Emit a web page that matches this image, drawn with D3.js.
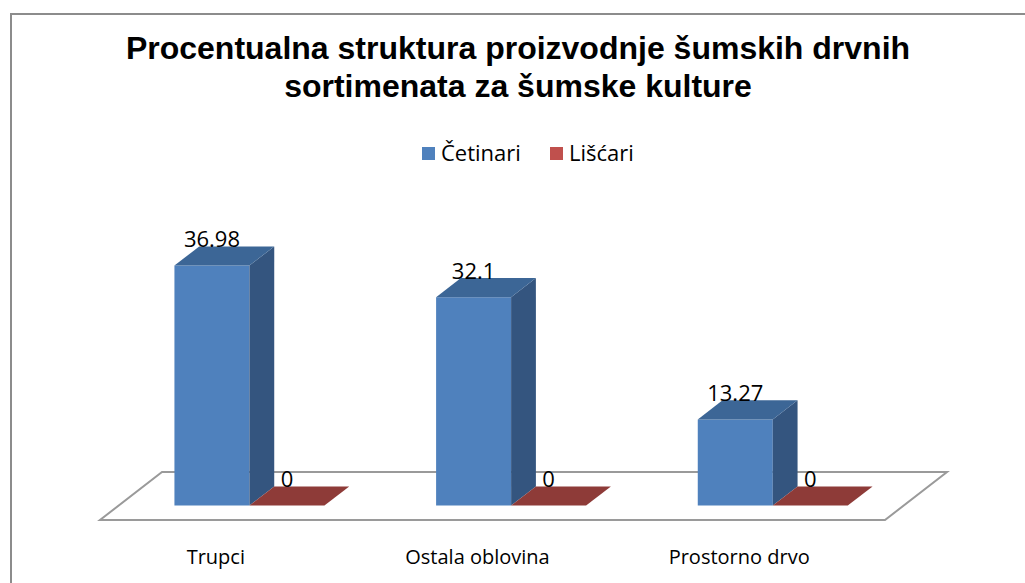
<!DOCTYPE html>
<meta charset="utf-8">
<style>
body { margin: 0; background: #fff; }
.title { font: bold 32px "Liberation Sans", Arial, sans-serif; fill: #000; }
.lbl { font-family: "Open Sans", sans-serif; fill: #000; }
</style>
<svg width="1025" height="583"></svg>
<script src="https://cdn.jsdelivr.net/npm/d3@7/dist/d3.min.js"></script>
<script>

var categories = ["Trupci", "Ostala oblovina", "Prostorno drvo"];
var series = ["Četinari", "Lišćari"];
var cetinari = [36.98, 32.1, 13.27];
var liscari = [0, 0, 0];
var titleLines = ["Procentualna struktura proizvodnje šumskih drvnih", "sortimenata za šumske kulture"];

var svg = d3.select("svg");

var colors = {
  "Četinari": {front: "#4f81bd", side: "#34557f", top: "#3c6696", legend: "#4f81bd"},
  "Lišćari": {front: "#c0504d", side: "#7e3230", top: "#8e3b38", legend: "#c0504d"}
};

// chart border
svg.append("rect")
    .attr("x", 11).attr("y", 14)
    .attr("width", 1040).attr("height", 600)
    .attr("fill", "#fff")
    .attr("stroke", "#8c8c8c")
    .attr("stroke-width", 2);

// title
svg.append("text")
    .attr("class", "title")
    .attr("text-anchor", "middle")
    .selectAll("tspan")
    .data(titleLines)
  .enter().append("tspan")
    .attr("x", 518)
    .attr("y", function(d, i) { return 59 + i * 38; })
    .text(function(d) { return d; });

// legend
var leg = svg.append("g").attr("transform", "translate(422,147)");
var legX = [0, 128];
series.forEach(function(s, i) {
  leg.append("rect")
      .attr("x", legX[i]).attr("y", 0)
      .attr("width", 13).attr("height", 13)
      .attr("fill", colors[s].legend);
  leg.append("text")
      .attr("class", "lbl")
      .style("font-size", "22px")
      .attr("x", legX[i] + 19).attr("y", 14)
      .text(s);
});

// 3D projection settings
var floorY = 520,
    depthX = 62, depthY = -48,   // full floor depth offset
    t0 = 0.3, t1 = 0.7;          // bar depth range

var x0 = d3.scaleBand().domain(categories).range([100, 885]);
var x1 = d3.scaleBand().domain(series).range([-75, 75]);
var h = d3.scaleLinear().domain([0, 40]).range([0, 259.6]);

function pt(x, y, t) { return [x + depthX * t, y + depthY * t]; }
function poly(pts) { return pts.map(function(p) { return p.join(","); }).join(" "); }

// floor
svg.append("polygon")
    .attr("points", poly([pt(100, floorY, 0), pt(885, floorY, 0), pt(885, floorY, 1), pt(100, floorY, 1)]))
    .attr("fill", "#fff")
    .attr("stroke", "#9a9a9a")
    .attr("stroke-width", 2);

var data = [];
categories.forEach(function(c, i) {
  data.push({cat: c, s: series[0], v: cetinari[i]});
  data.push({cat: c, s: series[1], v: liscari[i]});
});

var bars = svg.append("g").selectAll("g")
    .data(data)
  .enter().append("g");

bars.each(function(d) {
  var g = d3.select(this);
  var xl = x0(d.cat) + x0.bandwidth() / 2 + x1(d.s),
      xr = xl + x1.bandwidth(),
      yb = floorY,
      yt = floorY - h(d.v);
  if (d.v > 0) {
    g.append("polygon")
        .attr("points", poly([pt(xl, yt, t0), pt(xr, yt, t0), pt(xr, yb, t0), pt(xl, yb, t0)]))
        .attr("fill", colors[d.s].front);
    g.append("polygon")
        .attr("points", poly([pt(xr, yt, t0), pt(xr, yt, t1), pt(xr, yb, t1), pt(xr, yb, t0)]))
        .attr("fill", colors[d.s].side);
  }
  g.append("polygon")
      .attr("points", poly([pt(xl, yt, t0), pt(xr, yt, t0), pt(xr, yt, t1), pt(xl, yt, t1)]))
      .attr("fill", colors[d.s].top);
});

// data labels
svg.append("g").selectAll("text")
    .data(data)
  .enter().append("text")
    .attr("class", "lbl")
    .style("font-size", "22px")
    .attr("text-anchor", "middle")
    .attr("x", function(d) { return pt(x0(d.cat) + x0.bandwidth() / 2 + x1(d.s) + x1.bandwidth() / 2, 0, t0)[0]; })
    .attr("y", function(d) { return floorY - h(d.v) + depthY * t1 + 1; })
    .text(function(d) { return d.v; });

// category labels
svg.append("g").selectAll("text")
    .data(categories)
  .enter().append("text")
    .attr("class", "lbl")
    .style("font-size", "20px")
    .attr("text-anchor", "middle")
    .attr("x", function(d) { return x0(d) + x0.bandwidth() / 2 - 15; })
    .attr("y", 564)
    .text(function(d) { return d; });

</script>
